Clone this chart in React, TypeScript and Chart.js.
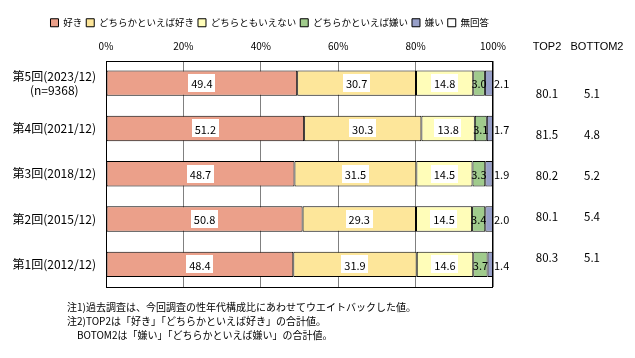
import React, { useEffect, useRef } from 'react';
import { Chart, registerables } from 'chart.js';
Chart.register(...registerables);

const FONT = '"Noto Sans CJK JP", "Noto Sans", sans-serif';

const categories: (string | string[])[] = [
  ['第5回(2023/12)', '(n=9368)'],
  '第4回(2021/12)',
  '第3回(2018/12)',
  '第2回(2015/12)',
  '第1回(2012/12)',
];
const seriesNames = ['好き', 'どちらかといえば好き', 'どちらともいえない', 'どちらかといえば嫌い', '嫌い', '無回答'];
const like = [49.4, 51.2, 48.7, 50.8, 48.4];
const ratherLike = [30.7, 30.3, 31.5, 29.3, 31.9];
const neither = [14.8, 13.8, 14.5, 14.5, 14.6];
const ratherDislike = [3.0, 3.1, 3.3, 3.4, 3.7];
const dislike = [2.1, 1.7, 1.9, 2.0, 1.4];
const noAnswer = [0, 0, 0, 0, 0];
const seriesColors = ['#EBA08A', '#FDE69A', '#FFFDB9', '#A0CB8C', '#979FC8', '#FFFFFF'];
const top2 = [80.1, 81.5, 80.2, 80.1, 80.3];
const bottom2 = [5.1, 4.8, 5.2, 5.4, 5.1];
const summaryHeaders = ['TOP2', 'BOTTOM2'];
const notes = [
  '注1)過去調査は、今回調査の性年代構成比にあわせてウエイトバックした値。',
  '注2)TOP2は「好き」「どちらかといえば好き」の合計値。',
  '　BOTOM2は「嫌い」「どちらかといえば嫌い」の合計値。',
];

const labelPlugin = {
  id: 'barLabels',
  afterDatasetsDraw(chart: any) {
    const ctx = chart.ctx;
    const area = chart.chartArea;
    const xs = chart.scales.x;
    ctx.save();
    ctx.textBaseline = 'middle';
    ctx.font = `11px ${FONT}`;
    chart.data.datasets.forEach((ds: any, di: number) => {
      if (di > 4) return;
      const meta = chart.getDatasetMeta(di);
      meta.data.forEach((el: any, j: number) => {
        const v = ds.data[j] as number;
        const txt = v.toFixed(1);
        const { x, base, y } = el.getProps(['x', 'base', 'y'], true);
        const cx = (x + base) / 2;
        if (di <= 2) {
          const w = ctx.measureText(txt).width + 6;
          ctx.fillStyle = '#ffffff';
          ctx.fillRect(Math.round(cx - w / 2), Math.round(y - 9), Math.round(w), 18);
          ctx.fillStyle = '#000';
          ctx.textAlign = 'center';
          ctx.fillText(txt, cx, y + 1);
        } else if (di === 3) {
          ctx.fillStyle = '#000';
          ctx.textAlign = 'center';
          ctx.fillText(txt, cx, y + 1);
        } else {
          ctx.fillStyle = '#000';
          ctx.textAlign = 'left';
          ctx.fillText(txt, xs.getPixelForValue(100) + 1, y + 1);
        }
      });
    });
    // plot frame
    ctx.strokeStyle = '#000';
    ctx.lineWidth = 1;
    ctx.strokeRect(Math.round(area.left) + 0.5, Math.round(area.top) + 0.5, Math.round(area.right - area.left) - 1, Math.round(area.bottom - area.top) - 1);
    // summary columns
    const c1 = area.right + 54;
    const c2 = area.right + 99;
    ctx.textAlign = 'center';
    ctx.font = `11px "Liberation Sans", Arial, sans-serif`;
    ctx.fillText(summaryHeaders[0], c1, area.top - 14);
    ctx.fillText(summaryHeaders[1], c2 + 5, area.top - 14);
    ctx.font = `11.5px ${FONT}`;
    top2.forEach((v, i) => {
      const yy = area.top + 33 + 41 * i;
      ctx.fillText(v.toFixed(1), c1, yy);
      ctx.fillText(bottom2[i].toFixed(1), c2, yy);
    });
    ctx.restore();
  },
};

export default function App() {
  const ref = useRef<HTMLCanvasElement | null>(null);
  useEffect(() => {
    if (!ref.current) return;
    Chart.defaults.color = '#000';
    Chart.defaults.font.family = FONT;
    const seriesData = [like, ratherLike, neither, ratherDislike, dislike, noAnswer];
    const chart = new Chart(ref.current, {
      type: 'bar',
      data: {
        labels: categories,
        datasets: seriesNames.map((name, i) => ({
          label: name,
          data: seriesData[i],
          backgroundColor: seriesColors[i],
          borderColor: '#000',
          borderWidth: 1,
          borderSkipped: false,
          barPercentage: 0.56,
          categoryPercentage: 1,
        })),
      },
      options: {
        indexAxis: 'y',
        animation: false,
        responsive: false,
        maintainAspectRatio: false,
        layout: { padding: { left: 0, right: 142, top: 14, bottom: 71 } },
        plugins: {
          legend: {
            position: 'top',
            align: 'end',
            labels: {
              boxWidth: 8,
              boxHeight: 8,
              padding: 4,
              color: '#000',
              font: { size: 9.5, family: FONT },
            },
          },
          tooltip: { enabled: false },
        },
        scales: {
          x: {
            position: 'top',
            stacked: true,
            min: 0,
            max: 100,
            ticks: {
              stepSize: 20,
              padding: 8,
              font: { size: 10, family: FONT },
              color: '#000',
              callback: (v: any) => `${v}%`,
            },
            grid: { color: '#808080', drawTicks: false, lineWidth: 1 },
            border: { display: false },
            afterFit: (s: any) => { s.height = 23; },
          },
          y: {
            stacked: true,
            ticks: {
              padding: 10,
              crossAlign: 'center',
              font: { size: 12, family: FONT },
              color: '#000',
            },
            grid: { display: false, drawTicks: false },
            border: { display: false },
            afterFit: (s: any) => { s.width = 106; },
          },
        },
      },
      plugins: [labelPlugin],
    } as any);
    return () => chart.destroy();
  }, []);

  return (
    <div style={{ position: 'absolute', left: 0, top: 0, width: 635, height: 358, background: '#fff' }}>
      <canvas ref={ref} width={635} height={358} style={{ display: 'block', width: 635, height: 358 }} />
      <div
        style={{
          position: 'absolute',
          left: 67,
          top: 300,
          fontFamily: FONT,
          fontSize: 10,
          lineHeight: '14px',
          whiteSpace: 'pre',
          color: '#000',
        }}
      >
        {notes.map((n, i) => (
          <div key={i}>{n}</div>
        ))}
      </div>
    </div>
  );
}
